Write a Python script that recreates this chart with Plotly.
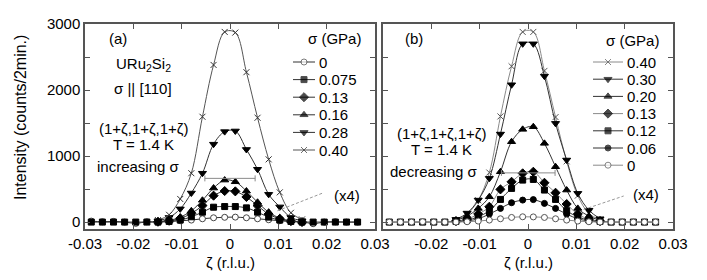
import plotly.graph_objects as go

# ---------------- data ----------------
zeta = [-0.0287, -0.0264, -0.0241, -0.0218, -0.0195, -0.0172, -0.0149, -0.0126, -0.0103,
        -0.0080, -0.0057, -0.0034, -0.0011, 0.0011, 0.0034, 0.0057, 0.0080, 0.0103,
        0.0126, 0.0149, 0.0172, 0.0195, 0.0218, 0.0241, 0.0264]
N = None  # not measured at this zeta

# panel (a): increasing sigma
a_labels = ["0", "0.075", "0.13", "0.16", "0.28", "0.40"]
a_0 = [15, 5, 10, 0, -20, 5, 0, 10, 20, 30, 50, 65, 72, 75, 65, 50, 35, 20, 10, 5, -25, 0, 5, 0, 0]
a_075 = [0, 0, 0, 0, 0, 0, 0, 10, 30, 80, 150, 225, 235, 235, 215, 150, 75, 30, 10, 0, 0, 0, 0, 0, 0]
a_13 = [N, N, N, N, N, N, 5, 20, 55, 130, 250, 400, 470, 465, 380, 250, 120, 50, 15, 0, N, N, N, N, N]
a_16 = [N, N, N, N, N, N, 10, 25, 75, 170, 330, 515, 636, 610, 470, 300, 150, 60, 20, 5, N, N, N, N, N]
a_28 = [N, N, N, N, N, N, 20, 70, 200, 440, 740, 1180, 1370, 1380, 1100, 800, 420, 230, 70, 20, N, N, N, N, N]
a_40 = [N, N, N, N, N, N, 30, 110, 350, 740, 1595, 2380, 2880, 2870, 2270, 1580, 950, 450, 140, 40, N, N, N, N, N]

# panel (b): decreasing sigma
b_labels = ["0.40", "0.30", "0.20", "0.13", "0.12", "0.06", "0"]
b_40 = [N, N, N, N, N, N, 30, 120, 330, 750, 1600, 2360, 2880, 2880, 2290, 1590, 920, 400, 130, 35, N, N, N, N, N]
b_30 = [N, N, N, N, N, N, 40, 136, 333, 662, 1333, 2080, 2700, 2700, 2210, 1495, 940, 435, 180, 50, N, N, N, N, N]
b_20 = [N, N, N, N, N, N, 25, 91, 207, 383, 762, 1217, 1404, 1444, 1192, 838, 485, 207, 91, 25, N, N, N, N, N]
b_13 = [N, N, N, N, N, N, 15, 45, 121, 232, 495, 610, 738, 762, 595, 444, 273, 121, 45, 15, N, N, N, N, N]
b_12 = [0, 0, 0, 0, 0, 0, 10, 30, 80, 172, 343, 510, 636, 646, 485, 343, 172, 80, 30, 10, 0, 0, 0, 0, 0]
b_06 = [N, N, N, N, N, N, 5, 15, 50, 121, 207, 293, 333, 340, 283, 207, 121, 50, 15, 5, N, N, N, N, N]
b_0 = [0, 0, 0, 5, 0, 0, 0, 5, 15, 30, 50, 70, 80, 78, 70, 50, 30, 15, 5, 0, 0, 0, 0, 0, 0]

# resolution bars and (x4) pointers
res_a_x = [-0.0052, 0.0052]
res_a_y = 662
res_b_x = [-0.0055, 0.0056]
res_b_y = 745
x4_a_x = [0.0098, 0.0192]
x4_a_y = [170, 440]
x4_b_x = [0.0115, 0.0198]
x4_b_y = [190, 395]

x_ticks_a = [-0.03, -0.02, -0.01, 0, 0.01, 0.02, 0.03]
x_ticktext_a = ["-0.03", "-0.02", "-0.01", "0", "0.01", "0.02", "0.03"]
x_ticks_b = [-0.02, -0.01, 0, 0.01, 0.02, 0.03]
x_ticktext_b = ["-0.02", "-0.01", "0", "0.01", "0.02", "0.03"]
y_ticks = [0, 1000, 2000, 3000]
y_ticktext = ["0", "1000", "2000", "3000"]
y_minor_ticks = [500, 1500, 2500]

# ---------------- page geometry ----------------
# the html body has an 8px default margin: lay out in page pixels and shift
OFF = 8
W, H = 707 - 2 * OFF, 280 - 2 * OFF
def fx(px):
    return (px - OFF) / W
def fy(py):
    return 1 - (py - OFF) / H

FONT = "Liberation Sans, Arial, sans-serif"
DARK = "#333333"
GRAY = "#8a8a8a"

fig = go.Figure()

# series styles: (values, label, symbol, size, line colour, marker fill, marker outline)
series_a = [
    (a_0, a_labels[0], "circle", 6, DARK, "white", "#444444"),
    (a_075, a_labels[1], "square", 6, DARK, "black", "black"),
    (a_13, a_labels[2], "diamond", 7, DARK, "black", "black"),
    (a_16, a_labels[3], "triangle-up", 7, DARK, "black", "black"),
    (a_28, a_labels[4], "triangle-down", 7, DARK, "black", "black"),
    (a_40, a_labels[5], "x-thin", 6, "#555555", "#333333", "#333333"),
]
series_b = [
    (b_40, b_labels[0], "x-thin", 6, GRAY, "#555555", "#555555"),
    (b_30, b_labels[1], "triangle-down", 7, DARK, "black", "black"),
    (b_20, b_labels[2], "triangle-up", 7, DARK, "black", "black"),
    (b_13, b_labels[3], "diamond", 7, GRAY, "black", "black"),
    (b_12, b_labels[4], "square", 6, DARK, "black", "black"),
    (b_06, b_labels[5], "circle", 6, DARK, "black", "black"),
    (b_0, b_labels[6], "circle", 6, GRAY, "white", "#555555"),
]
draw_a = [0, 2, 3, 4, 5, 1]
draw_b = [0, 1, 2, 3, 4, 5, 6]

for series, order, xa, ya in [(series_a, draw_a, "x", "y"), (series_b, draw_b, "x2", "y2")]:
    for k in order:
        vals, name, sym, size, lc, fill, ml = series[k]
        fig.add_trace(go.Scatter(
            x=zeta, y=vals, name=name, mode="lines+markers",
            line=dict(color=lc, width=1, shape="spline", smoothing=1.0),
            marker=dict(symbol=sym, size=size, color=fill, line=dict(color=ml, width=1)),
            xaxis=xa, yaxis=ya, showlegend=False))

# resolution bars (with end caps)
for xr, yr, xa, ya in [(res_a_x, res_a_y, "x", "y"), (res_b_x, res_b_y, "x2", "y2")]:
    fig.add_trace(go.Scatter(
        x=[(xr[0] + xr[1]) / 2], y=[yr], mode="markers",
        marker=dict(size=1, color="rgba(0,0,0,0)"),
        error_x=dict(type="data", array=[(xr[1] - xr[0]) / 2], color=GRAY, thickness=1, width=3),
        xaxis=xa, yaxis=ya, showlegend=False, hoverinfo="skip"))

# (x4) pointers
for xs, ys, xa, ya in [(x4_a_x, x4_a_y, "x", "y"), (x4_b_x, x4_b_y, "x2", "y2")]:
    fig.add_trace(go.Scatter(x=xs, y=ys, mode="lines",
                             line=dict(color="#999999", width=1, dash="3px,2px"),
                             xaxis=xa, yaxis=ya, showlegend=False, hoverinfo="skip"))

# ---- legends drawn on a page-pixel overlay axis (x3/y3) ----
ann = []
def txt(text, x, y, xref, yref, size=15, **kw):
    ann.append(dict(text=text, x=x, y=y, xref=xref, yref=yref, showarrow=False,
                    font=dict(family=FONT, size=size, color="black"), **kw))

legend_specs = [
    # series, line start, line end, text left, first row y, row step, title centre x, title y
    (series_a, 293, 315, 317, 62, 17.6, 334, 38),
    (series_b, 593, 623, 625, 62, 17.2, 632, 40),
]
for series, l0, l1, tx, y0, dy, tcx, tcy in legend_specs:
    txt("σ (GPa)", tcx, tcy, "x3", "y3")
    for i, (vals, name, sym, size, lc, fill, ml) in enumerate(series):
        yy = y0 + i * dy
        fig.add_trace(go.Scatter(
            x=[l0, (l0 + l1) / 2, l1], y=[yy, yy, yy], mode="lines+markers",
            line=dict(color=lc, width=1),
            marker=dict(symbol=sym, size=[0, size, 0], color=fill, line=dict(color=ml, width=1)),
            xaxis="x3", yaxis="y3", showlegend=False, hoverinfo="skip"))
        txt(name, tx, yy, "x3", "y3", xanchor="left")

axis_common = dict(showline=True, linecolor="#555555", linewidth=1.5, mirror="ticks",
                   ticks="inside", ticklen=5, tickcolor="#555555", tickwidth=1,
                   showgrid=False, zeroline=False,
                   tickfont=dict(family=FONT, size=15, color="black"))
y_minor = dict(tickvals=y_minor_ticks, ticks="inside", ticklen=5, tickcolor="#555555",
               tickwidth=1, showgrid=False)

fig.update_layout(
    width=W, height=H,
    margin=dict(l=0, r=0, t=0, b=0, autoexpand=False),
    paper_bgcolor="white", plot_bgcolor="rgba(0,0,0,0)",
    font=dict(family=FONT, size=15, color="black"),
    showlegend=False,
    xaxis=dict(domain=[fx(85), fx(375)], range=[-0.03, 0.03], tickvals=x_ticks_a,
               ticktext=x_ticktext_a, anchor="y", **axis_common),
    yaxis=dict(domain=[fy(229), fy(24)], range=[-105, 3000], tickvals=y_ticks,
               ticktext=y_ticktext, minor=y_minor, anchor="x", **axis_common),
    xaxis2=dict(domain=[fx(383), fx(673)], range=[-0.03, 0.03], tickvals=x_ticks_b,
                ticktext=x_ticktext_b, anchor="y2", **axis_common),
    yaxis2=dict(domain=[fy(229), fy(24)], range=[-105, 3000], tickvals=y_ticks,
                minor=y_minor, showticklabels=False, anchor="x2", **axis_common),
    xaxis3=dict(domain=[0, 1], range=[OFF, OFF + W], visible=False, anchor="y3", fixedrange=True),
    yaxis3=dict(domain=[0, 1], range=[OFF + H, OFF], visible=False, anchor="x3", fixedrange=True),
)

# panel a texts
txt("(a)", -0.0232, 2773, "x", "y")
txt("URu<sub>2</sub>Si<sub>2</sub>", -0.018, 2390, "x", "y")
txt("σ || [110]", -0.018, 2025, "x", "y")
txt("(1+ζ,1+ζ,1+ζ)", -0.018, 1420, "x", "y")
txt("T = 1.4 K", -0.018, 1180, "x", "y")
txt("increasing σ", -0.019, 840, "x", "y")
txt("(x4)", 0.0242, 410, "x", "y")

# panel b texts
txt("(b)", -0.0235, 2783, "x2", "y2")
txt("(1+ζ,1+ζ,1+ζ)", -0.018, 1345, "x2", "y2")
txt("T = 1.4 K", -0.018, 1095, "x2", "y2")
txt("decreasing σ", -0.0194, 762, "x2", "y2")
txt("(x4)", 0.0244, 420, "x2", "y2")

# axis titles
txt("ζ (r.l.u.)", 230, 262, "x3", "y3")
txt("ζ (r.l.u.)", 528, 262, "x3", "y3")
txt("Intensity (counts/2min.)", 20, 118, "x3", "y3", size=16, textangle=-90)

fig.update_layout(annotations=ann)

fig.write_html("out.html")
